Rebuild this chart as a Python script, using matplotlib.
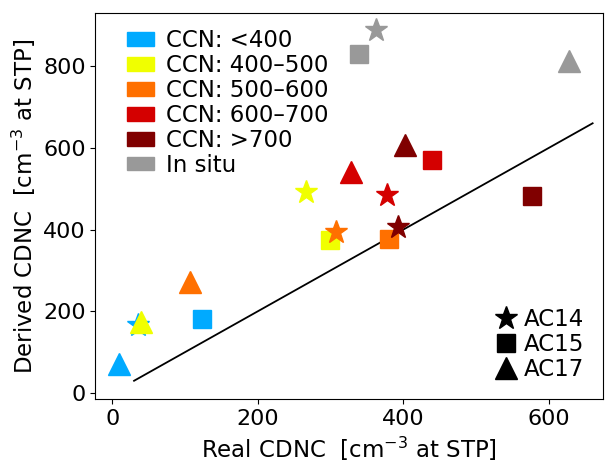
import matplotlib
matplotlib.use("Agg")
import matplotlib.pyplot as plt
from matplotlib.patches import Patch
from matplotlib.lines import Line2D

# CCN class colours
ccn_labels = ["CCN: <400", "CCN: 400\u2013500", "CCN: 500\u2013600",
              "CCN: 600\u2013700", "CCN: >700", "In situ"]
ccn_colors = ["#00aaff", "#f0ff00", "#ff7000", "#d40000", "#800000", "#999999"]

# values per campaign, one per CCN class (same order as above)
ac14_real = [36, 266, 308, 378, 393, 362]
ac14_derived = [166, 491, 393, 485, 407, 889]
ac15_real = [124, 299, 380, 439, 577, 339]
ac15_derived = [180, 375, 376, 569, 483, 829]
ac17_real = [10, 40, 107, 328, 402, 627]
ac17_derived = [71, 174, 271, 542, 606, 813]

one_to_one = [30, 660]

plt.rcParams['font.size'] = 16

fig = plt.figure(figsize=(6.12, 4.62), dpi=100)
ax = fig.add_subplot(111)
fig.subplots_adjust(left=0.156, right=0.985, top=0.972, bottom=0.136)

ax.plot(one_to_one, one_to_one, color='k', lw=1.3, zorder=1)

for i in range(len(ccn_colors)):
    ax.plot(ac14_real[i], ac14_derived[i], marker='*', ms=17, color=ccn_colors[i], ls='none')
    ax.plot(ac15_real[i], ac15_derived[i], marker='s', ms=13.5, color=ccn_colors[i], ls='none')
    ax.plot(ac17_real[i], ac17_derived[i], marker='^', ms=16, color=ccn_colors[i], ls='none')

ax.set_xlim(-23, 674)
ax.set_ylim(-15, 930)
ax.set_xticks([0, 200, 400, 600])
ax.set_yticks([0, 200, 400, 600, 800])
ax.set_xlabel("Real CDNC  [cm$^{-3}$ at STP]", fontsize=16.5)
ax.set_ylabel("Derived CDNC  [cm$^{-3}$ at STP]", fontsize=16.5)

handles = [Patch(color=c, label=l) for c, l in zip(ccn_colors, ccn_labels)]
leg1 = ax.legend(handles=handles, loc='upper left', frameon=False, fontsize=16.5,
                 handlelength=1.15, handleheight=0.55, labelspacing=0.08,
                 handletextpad=0.55, borderaxespad=0,
                 bbox_to_anchor=(0.045, 0.981))
ax.add_artist(leg1)

camp = [Line2D([], [], marker='*', ms=17, color='k', ls='none', label='AC14'),
        Line2D([], [], marker='s', ms=13.5, color='k', ls='none', label='AC15'),
        Line2D([], [], marker='^', ms=16, color='k', ls='none', label='AC17')]
ax.legend(handles=camp, loc='lower right', frameon=False, fontsize=16.5,
          labelspacing=0.08, handletextpad=0.3, handlelength=1.0, borderaxespad=0.4)

plt.savefig("out.png", dpi=100)
